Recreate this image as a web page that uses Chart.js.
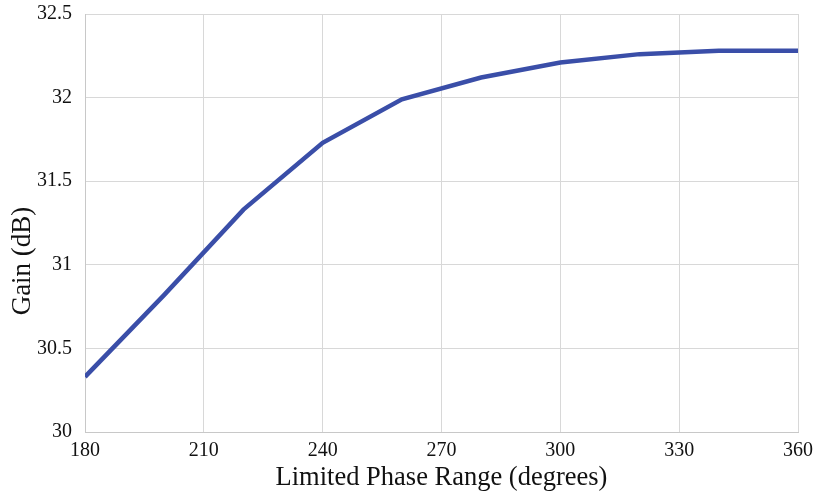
<!DOCTYPE html>
<html>
<head>
<meta charset="utf-8">
<script src="https://cdn.jsdelivr.net/npm/chart.js@4"></script>
<style>
  body { margin: 0; background: #fff; }
</style>
</head>
<body>
<canvas id="gainChart" width="815" height="495"></canvas>
<script>
const phaseRange = [180, 200, 220, 240, 260, 280, 300, 320, 340, 360];
const gainDb = [30.33, 30.82, 31.33, 31.73, 31.99, 32.12, 32.21, 32.26, 32.28, 32.28];
const xTicks = [180, 210, 240, 270, 300, 330, 360];
const yTicks = [30, 30.5, 31, 31.5, 32, 32.5];
const yTitle = "Gain (dB)";

const points = phaseRange.map((x, i) => ({ x: x, y: gainDb[i] }));
const serif = "'Liberation Serif', 'Times New Roman', serif";

// y title sits lower than the axis middle in the original, so draw it by hand
const yTitlePlugin = {
  id: "yTitle",
  afterDraw(chart) {
    const c = chart.ctx;
    c.save();
    c.translate(23, 261);
    c.rotate(-Math.PI / 2);
    c.font = "27px " + serif;
    c.fillStyle = "#111";
    c.textAlign = "center";
    c.textBaseline = "middle";
    c.fillText(yTitle, 0, 0);
    c.restore();
  },
};

window.onload = function () {
  const ctx = document.getElementById("gainChart").getContext("2d");
  new Chart(ctx, {
    type: "line",
    data: {
      datasets: [
        {
          data: points,
          borderColor: "#3a4ea8",
          borderWidth: 4.5,
          pointRadius: 0,
          tension: 0,
        },
      ],
    },
    plugins: [yTitlePlugin],
    options: {
      responsive: false,
      animation: false,
      layout: { padding: { top: 14, right: 17, left: 0, bottom: 0 } },
      plugins: { legend: { display: false }, tooltip: { enabled: false } },
      scales: {
        x: {
          type: "linear",
          min: 180,
          max: 360,
          afterBuildTicks: (axis) => { axis.ticks = xTicks.map((v) => ({ value: v })); },
          afterFit: (axis) => {
            axis.height = 63;
            axis.paddingLeft = 0;
            axis.paddingRight = 0;
          },
          grid: { color: "#d8d8d8", drawTicks: false },
          border: { color: "#c8c8c8" },
          ticks: {
            color: "#111",
            font: { family: serif, size: 20 },
            padding: 7,
            maxRotation: 0,
            autoSkip: false,
            callback: (v) => String(v),
          },
          title: {
            display: true,
            text: "Limited Phase Range (degrees)",
            color: "#111",
            font: { family: serif, size: 26.5 },
            padding: { top: 0, bottom: 1 },
          },
        },
        y: {
          min: 30,
          max: 32.5,
          afterBuildTicks: (axis) => { axis.ticks = yTicks.map((v) => ({ value: v })); },
          afterFit: (axis) => {
            axis.width = 85;
            axis.paddingTop = 0;
            axis.paddingBottom = 0;
          },
          grid: { color: "#d8d8d8", drawTicks: false },
          border: { color: "#c8c8c8" },
          ticks: {
            color: "#111",
            font: { family: serif, size: 20 },
            padding: 13,
            autoSkip: false,
            callback: (v) => String(v),
          },
          title: { display: false },
        },
      },
    },
  });
};
</script>
</body>
</html>
